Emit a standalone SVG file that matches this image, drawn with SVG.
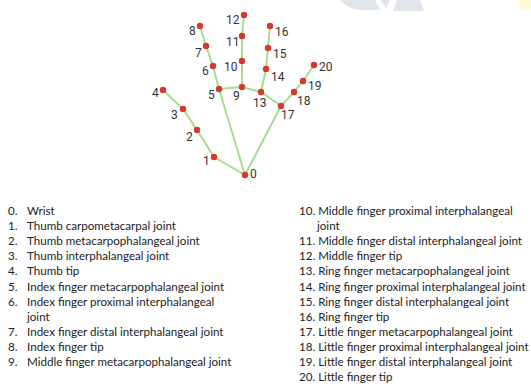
<svg xmlns="http://www.w3.org/2000/svg" width="531" height="384" viewBox="0 0 531 384">
<style>
.bone{stroke:#a6dd90;stroke-width:2;stroke-linecap:round;fill:none}
.pt{fill:#d5392d}
.lbl{font-family:Roboto,"Liberation Sans",sans-serif;font-size:12px;fill:#333}
.li{font-family:Lato,"Open Sans","Liberation Sans",sans-serif;font-size:11.6px;fill:#222}
</style>
<rect width="531" height="384" fill="#fff"/>
<g id="watermark">
<path d="M341,0 Q347,10 365,10 L380,10 L375,0 Z" fill="#dfe5ea"/>
<path d="M381,0 L390,0 L386,9 Z" fill="#dfe5ea"/>
<path d="M397,0 L420,0 L424,11 L393,11 Z" fill="#dfe5ea"/>
<path d="M517,0 L531,0 L531,10 L520,10 Z" fill="#fffbd8"/>
</g>
<g id="connectors">
<polyline class="bone" points="245,175 214,157 197,130 183,109 163,90"/>
<polyline class="bone" points="245,175 219,89 213,66 206,46 200,26"/>
<polyline class="bone" points="219,89 242,87 261,92 281,106 245,175"/>
<polyline class="bone" points="242,87 242,61 242,36 244,15"/>
<polyline class="bone" points="261,92 266,69 268,48 270,26"/>
<polyline class="bone" points="281,106 294,92 303,81 314,65"/>
</g>
<g id="n0"><circle class="pt" cx="245" cy="175" r="3.2"/><text class="lbl" x="250" y="178">0</text></g>
<g id="n1"><circle class="pt" cx="214" cy="157" r="3.2"/><text class="lbl" x="203" y="165">1</text></g>
<g id="n2"><circle class="pt" cx="197" cy="130" r="3.2"/><text class="lbl" x="186" y="141">2</text></g>
<g id="n3"><circle class="pt" cx="183" cy="109" r="3.2"/><text class="lbl" x="171" y="119">3</text></g>
<g id="n4"><circle class="pt" cx="163" cy="90" r="3.2"/><text class="lbl" x="152" y="97">4</text></g>
<g id="n5"><circle class="pt" cx="219" cy="89" r="3.2"/><text class="lbl" x="208" y="99">5</text></g>
<g id="n6"><circle class="pt" cx="213" cy="66" r="3.2"/><text class="lbl" x="202" y="75">6</text></g>
<g id="n7"><circle class="pt" cx="206" cy="46" r="3.2"/><text class="lbl" x="195" y="57">7</text></g>
<g id="n8"><circle class="pt" cx="200" cy="26" r="3.2"/><text class="lbl" x="189" y="35">8</text></g>
<g id="n9"><circle class="pt" cx="242" cy="87" r="3.2"/><text class="lbl" x="233" y="100">9</text></g>
<g id="n10"><circle class="pt" cx="242" cy="61" r="3.2"/><text class="lbl" x="224" y="71">10</text></g>
<g id="n11"><circle class="pt" cx="242" cy="36" r="3.2"/><text class="lbl" x="226" y="46">11</text></g>
<g id="n12"><circle class="pt" cx="244" cy="15" r="3.2"/><text class="lbl" x="226" y="24">12</text></g>
<g id="n13"><circle class="pt" cx="261" cy="92" r="3.2"/><text class="lbl" x="253" y="107">13</text></g>
<g id="n14"><circle class="pt" cx="266" cy="69" r="3.2"/><text class="lbl" x="271" y="81">14</text></g>
<g id="n15"><circle class="pt" cx="268" cy="48" r="3.2"/><text class="lbl" x="273" y="58">15</text></g>
<g id="n16"><circle class="pt" cx="270" cy="26" r="3.2"/><text class="lbl" x="275" y="36">16</text></g>
<g id="n17"><circle class="pt" cx="281" cy="106" r="3.2"/><text class="lbl" x="281" y="119">17</text></g>
<g id="n18"><circle class="pt" cx="294" cy="92" r="3.2"/><text class="lbl" x="297" y="105">18</text></g>
<g id="n19"><circle class="pt" cx="303" cy="81" r="3.2"/><text class="lbl" x="308" y="90">19</text></g>
<g id="n20"><circle class="pt" cx="314" cy="65" r="3.2"/><text class="lbl" x="319" y="71">20</text></g>
<g id="legend-left" class="li">
<text x="8" y="215">0.</text><text x="27" y="215">Wrist</text>
<text x="8" y="230.1">1.</text><text x="27" y="230.1">Thumb carpometacarpal joint</text>
<text x="8" y="245.2">2.</text><text x="27" y="245.2">Thumb metacarpophalangeal joint</text>
<text x="8" y="260.3">3.</text><text x="27" y="260.3">Thumb interphalangeal joint</text>
<text x="8" y="275.4">4.</text><text x="27" y="275.4">Thumb tip</text>
<text x="8" y="290.5">5.</text><text x="27" y="290.5">Index finger metacarpophalangeal joint</text>
<text x="8" y="305.6">6.</text><text x="27" y="305.6">Index finger proximal interphalangeal</text>
<text x="27" y="320.7">joint</text>
<text x="8" y="335.8">7.</text><text x="27" y="335.8">Index finger distal interphalangeal joint</text>
<text x="8" y="350.9">8.</text><text x="27" y="350.9">Index finger tip</text>
<text x="8" y="366">9.</text><text x="27" y="366">Middle finger metacarpophalangeal joint</text>
</g>
<g id="legend-right" class="li">
<text x="299" y="215">10. Middle finger proximal interphalangeal</text>
<text x="317" y="230.1">joint</text>
<text x="299" y="245.2">11. Middle finger distal interphalangeal joint</text>
<text x="299" y="260.3">12. Middle finger tip</text>
<text x="299" y="275.4">13. Ring finger metacarpophalangeal joint</text>
<text x="299" y="290.5">14. Ring finger proximal interphalangeal joint</text>
<text x="299" y="305.6">15. Ring finger distal interphalangeal joint</text>
<text x="299" y="320.7">16. Ring finger tip</text>
<text x="299" y="335.8">17. Little finger metacarpophalangeal joint</text>
<text x="299" y="350.9">18. Little finger proximal interphalangeal joint</text>
<text x="299" y="366">19. Little finger distal interphalangeal joint</text>
<text x="299" y="381.1">20. Little finger tip</text>
</g>
</svg>
